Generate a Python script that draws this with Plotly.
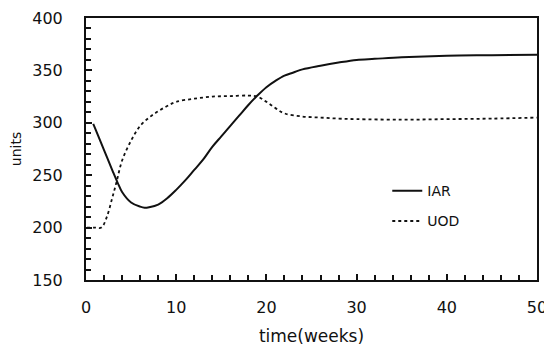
import plotly.graph_objects as go

# Data
iar_t = [0.8, 1, 2, 3, 3.5, 4, 5, 6, 6.5, 7, 8, 9, 10, 11, 12, 13, 14, 15, 16, 17, 18, 19,
         20, 21, 22, 23, 24, 26, 28, 30, 32, 35, 40, 45, 50]
iar_v = [299, 295, 274, 253, 243, 234, 224, 220, 219, 219.5, 222, 228, 236, 245, 255, 265, 277,
         287, 297, 307, 317, 326, 334, 340, 345, 348, 351, 354.5, 357.5, 360, 361, 362.5, 364, 364.5, 365]

uod_t = [0.1, 1, 1.7, 2.3, 2.9, 3.4, 4, 5, 6, 7, 8, 9, 10, 12, 14, 16, 18, 19, 20, 21, 22,
         24, 26, 28, 30, 35, 40, 45, 50]
uod_v = [200, 200, 200, 210, 228, 244, 264, 283, 297, 305, 311, 316, 320, 323, 325, 325.5, 326,
         325, 320, 314, 309, 306, 305, 304, 303.5, 303, 303.5, 304, 305]

x_ticks = [0, 10, 20, 30, 40, 50]
y_ticks = [150, 200, 250, 300, 350, 400]

FONT = "DejaVu Sans"
INK = "#111111"

fig = go.Figure()
fig.add_trace(go.Scatter(x=iar_t, y=iar_v, mode="lines", name="IAR", legendgroup="a",
                         line=dict(color=INK, width=2, shape="spline")))
fig.add_trace(go.Scatter(x=uod_t, y=uod_v, mode="lines", name="UOD", legendgroup="b",
                         line=dict(color=INK, width=1.8, dash="dot", shape="spline")))

axis_common = dict(showgrid=False, zeroline=False, showline=True, linecolor=INK, linewidth=2,
                   mirror=True, ticks="inside", tickcolor=INK, tickwidth=1.5, ticklen=6,
                   automargin=False, ticklabeloverflow="allow",
                   tickfont=dict(family=FONT, size=16, color=INK))

fig.update_xaxes(range=[0, 50], tickvals=x_ticks, ticklabelstandoff=12,
                 minor=dict(dtick=2, ticks="inside", ticklen=5, tickcolor=INK, tickwidth=1.5),
                 title=dict(text="time(weeks)", font=dict(family=FONT, size=17, color=INK), standoff=14),
                 **axis_common)
fig.update_yaxes(range=[150, 400], tickvals=y_ticks, ticklabelstandoff=18,
                 minor=dict(dtick=10, ticks="inside", ticklen=5, tickcolor=INK, tickwidth=1.5),
                 title=dict(text="units", font=dict(family=FONT, size=14, color=INK), standoff=10),
                 **axis_common)

# The page places the figure 8px from the window's top-left corner
fig.update_layout(
    width=544, height=342,
    margin=dict(l=78, r=15, t=10, b=70, autoexpand=False),
    paper_bgcolor="white", plot_bgcolor="white",
    showlegend=True,
    legend=dict(x=0.668, y=0.40, xanchor="left", yanchor="top", bgcolor="rgba(0,0,0,0)",
                font=dict(family=FONT, size=14, color=INK), tracegroupgap=9),
)

fig.write_html("out.html")
